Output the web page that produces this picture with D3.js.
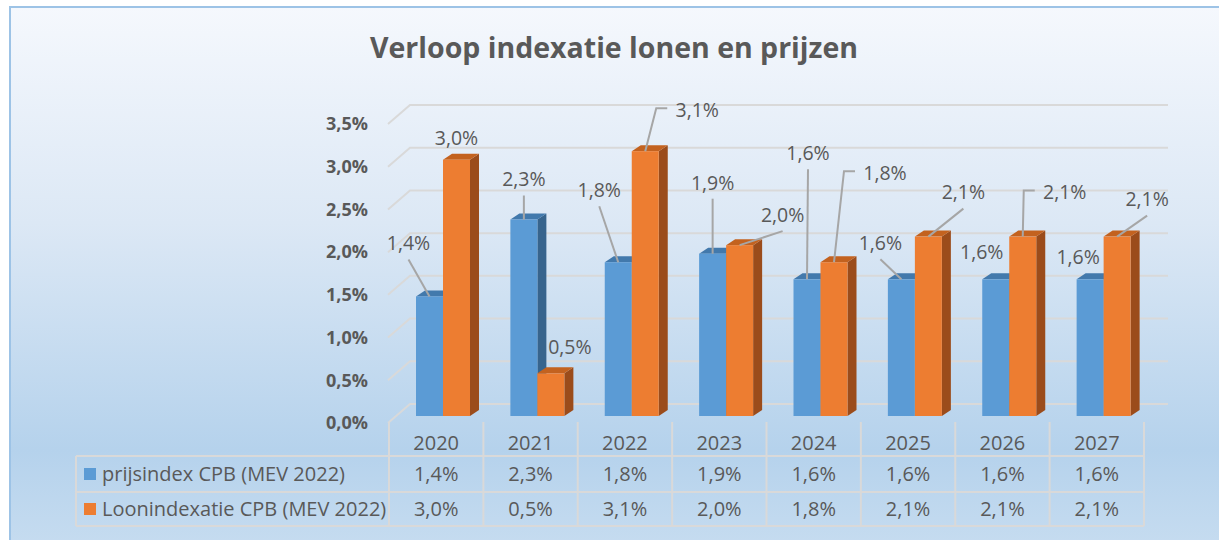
<!DOCTYPE html>
<html>
<head>
<meta charset="utf-8">
<script src="https://cdn.jsdelivr.net/npm/d3@7"></script>
<style>
  html, body { margin: 0; padding: 0; background: #fff; }
  svg { display: block; font-family: "Open Sans", sans-serif; }
</style>
</head>
<body>
<svg id="chart" width="1219" height="540"></svg>
<script>
// data
var years = ['2020', '2021', '2022', '2023', '2024', '2025', '2026', '2027'];
var prijsindex = [1.4, 2.3, 1.8, 1.9, 1.6, 1.6, 1.6, 1.6];
var loonindexatie = [3.0, 0.5, 3.1, 2.0, 1.8, 2.1, 2.1, 2.1];
var seriesNames = ['prijsindex CPB (MEV 2022)', 'Loonindexatie CPB (MEV 2022)'];
var yTicks = [0, 0.5, 1, 1.5, 2, 2.5, 3, 3.5];

// label placement (offset from bar top, leader type)
var labelPos = [
  [[-21, -53, 'line'], [0, -40, 'line'], [-19, -72, 'line'], [0, -71, 'line'],
   [1, -126, 'line'], [-21, -36, 'line'], [-14, -27, 'none'], [-12, -22, 'none']],
  [[0, -22, 'none'], [19, -26, 'none'], [52, -41, 'elbow'], [43, -30, 'line'],
   [51, -89, 'elbow'], [35, -44, 'line'], [42, -44, 'elbow'], [30, -37, 'line']]
];

var fmt = function(v) { return d3.format('.1f')(v).replace('.', ',') + '%'; };

var svg = d3.select('#chart');
var textCol = '#595959';
var gridCol = '#d9d9d9';

// background
var defs = svg.append('defs');
var grad = defs.append('linearGradient')
    .attr('id', 'bg').attr('x1', 0).attr('y1', 0).attr('x2', 0).attr('y2', 1);
[[0, '#f5f8fd'], [0.4, '#dce8f5'], [0.82, '#b5d2ec'], [1, '#c6dcf0']].forEach(function(s) {
  grad.append('stop').attr('offset', s[0]).attr('stop-color', s[1]);
});
svg.append('rect')
    .attr('x', 10).attr('y', 7).attr('width', 1220).attr('height', 540)
    .attr('fill', 'url(#bg)')
    .attr('stroke', '#9dc3e6').attr('stroke-width', 2);

// title
svg.append('text')
    .attr('x', 614).attr('y', 48).attr('dy', '0.35em')
    .attr('text-anchor', 'middle')
    .attr('font-size', 29).attr('font-weight', 'bold')
    .attr('fill', textCol)
    .attr('textLength', 488).attr('lengthAdjust', 'spacingAndGlyphs')
    .text('Verloop indexatie lonen en prijzen');

// scales
var x = d3.scaleBand().domain(years).range([389, 1144]);
var depthX = 22, depthY = 19;
var yBack = d3.scaleLinear().domain([0, 3.5]).range([404, 105]);
var yFront = d3.scaleLinear().domain([0, 3.5]).range([404 + depthY, 105 + depthY]);
var yBar = d3.scaleLinear().domain([0, 3.5]).range([416, 117]);
var wallRight = 1168;

// back wall gridlines + side diagonals
var grid = svg.append('g').attr('stroke', gridCol).attr('stroke-width', 2).attr('fill', 'none');
yTicks.forEach(function(t) {
  grid.append('path')
      .attr('d', 'M' + (389 - 1) + ',' + yFront(t) + 'L' + (389 - 1 + depthX) + ',' + yBack(t) +
        'L' + wallRight + ',' + yBack(t));
});

// y axis labels
svg.append('g').selectAll('text').data(yTicks).enter().append('text')
    .attr('x', 368).attr('y', function(d) { return yFront(d); }).attr('dy', '0.35em')
    .attr('text-anchor', 'end')
    .attr('font-size', 18).attr('font-weight', 'bold')
    .attr('fill', textCol)
    .text(function(d) { return fmt(d); });

// bars
var barW = 27, bdx = 9, bdy = -6;
var colors = [
  {front: '#5b9bd5', top: '#4279ac', side: '#37648d'},
  {front: '#ed7d31', top: '#c3621f', side: '#9b4c1b'}
];
var seriesVals = [prijsindex, loonindexatie];

function barX(i, s) { return x(years[i]) + 27 + s * barW; }

var bars = svg.append('g');
years.forEach(function(yr, i) {
  seriesVals.forEach(function(vals, s) {
    var x0 = barX(i, s), yt = yBar(vals[i]), yb = yBar(0), c = colors[s];
    var g = bars.append('g');
    g.append('path')
        .attr('d', 'M' + (x0 + barW) + ',' + yt + 'L' + (x0 + barW + bdx) + ',' + (yt + bdy) +
          'L' + (x0 + barW + bdx) + ',' + (yb + bdy) + 'L' + (x0 + barW) + ',' + yb + 'Z')
        .attr('fill', c.side);
    g.append('path')
        .attr('d', 'M' + x0 + ',' + yt + 'L' + (x0 + barW) + ',' + yt +
          'L' + (x0 + barW + bdx) + ',' + (yt + bdy) + 'L' + (x0 + bdx) + ',' + (yt + bdy) + 'Z')
        .attr('fill', c.top);
    g.append('rect')
        .attr('x', x0).attr('y', yt).attr('width', barW).attr('height', yb - yt)
        .attr('fill', c.front);
  });
});

// data labels with leader lines
var leaders = svg.append('g').attr('stroke', '#a6a6a6').attr('stroke-width', 2).attr('fill', 'none');
var labels = svg.append('g').attr('font-size', 19.5).attr('fill', textCol).attr('text-anchor', 'middle');
seriesVals.forEach(function(vals, s) {
  vals.forEach(function(v, i) {
    var ax = barX(i, s) + barW / 2, ay = yBar(v);
    var p = labelPos[s][i];
    var cx = ax + p[0], cy = ay + p[1];
    if (p[2] === 'line') {
      leaders.append('path').attr('d', 'M' + cx + ',' + (cy + 16) + 'L' + ax + ',' + ay);
    } else if (p[2] === 'elbow') {
      var left = cx - 22;
      leaders.append('path').attr('d', 'M' + (left - 8) + ',' + (cy - 2) +
        'L' + (left - 19) + ',' + (cy - 2) + 'L' + ax + ',' + ay);
    }
    labels.append('text').attr('x', cx).attr('y', cy).attr('dy', '0.35em').text(fmt(v));
  });
});

// data table
var rowY = [422, 456, 492, 526];
var tbl = svg.append('g').attr('stroke', gridCol).attr('stroke-width', 2).attr('fill', 'none');
x.domain().concat(['end']).forEach(function(yr, i) {
  var xx = 389 + i * x.bandwidth();
  tbl.append('line').attr('x1', xx).attr('x2', xx).attr('y1', rowY[0]).attr('y2', rowY[3]);
});
[1, 2, 3].forEach(function(r) {
  tbl.append('line').attr('x1', 76).attr('x2', 1144).attr('y1', rowY[r]).attr('y2', rowY[r]);
});
tbl.append('line').attr('x1', 76).attr('x2', 76).attr('y1', rowY[1]).attr('y2', rowY[3]);

var tt = svg.append('g').attr('font-size', 20).attr('fill', textCol);
years.forEach(function(yr, i) {
  var cx = x(yr) + x.bandwidth() / 2;
  tt.append('text').attr('x', cx).attr('y', (rowY[0] + rowY[1]) / 2 + 4).attr('dy', '0.35em')
      .attr('text-anchor', 'middle').text(yr);
  seriesVals.forEach(function(vals, s) {
    tt.append('text').attr('x', cx).attr('y', (rowY[s + 1] + rowY[s + 2]) / 2).attr('dy', '0.35em')
        .attr('text-anchor', 'middle').text(fmt(vals[i]));
  });
});
seriesNames.forEach(function(n, s) {
  var cy = (rowY[s + 1] + rowY[s + 2]) / 2;
  svg.append('rect').attr('x', 84).attr('y', cy - 6).attr('width', 12).attr('height', 12)
      .attr('fill', colors[s].front);
  tt.append('text').attr('x', 102).attr('y', cy).attr('dy', '0.35em').text(n);
});
</script>
</body>
</html>
